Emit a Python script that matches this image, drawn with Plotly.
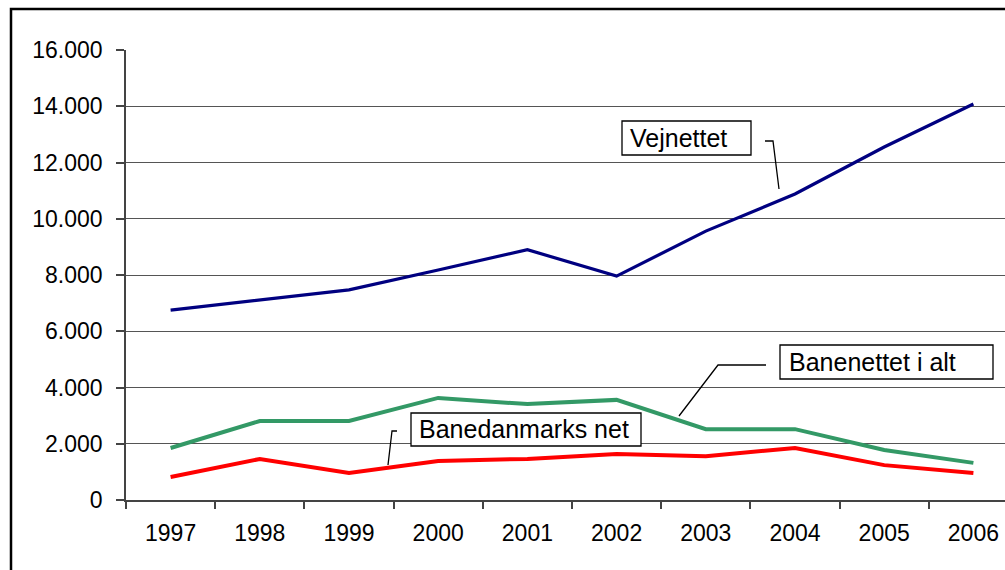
import plotly.graph_objects as go

years = ["1997", "1998", "1999", "2000", "2001", "2002", "2003", "2004", "2005", "2006"]
vejnettet = [6750, 7100, 7470, 8180, 8900, 7960, 9560, 10880, 12550, 14080]
banenettet = [1850, 2810, 2810, 3630, 3410, 3560, 2520, 2520, 1780, 1320]
banedanmark = [820, 1460, 960, 1390, 1460, 1640, 1560, 1850, 1240, 960]

# plot area in pixels
L, R, T, B = 126, 1005, 50, 500
CAT_W = 89.2


def px(x):
    return (x - L) / (R - L)


def py(y):
    return (B - y) / (B - T)


FONT = "Liberation Sans, Arial, sans-serif"

fig = go.Figure()
fig.add_trace(go.Scatter(x=years, y=vejnettet, mode="lines",
                         line=dict(color="#000080", width=3.2), name="Vejnettet"))
fig.add_trace(go.Scatter(x=years, y=banenettet, mode="lines",
                         line=dict(color="#339966", width=4), name="Banenettet i alt"))
fig.add_trace(go.Scatter(x=years, y=banedanmark, mode="lines",
                         line=dict(color="#FF0000", width=4), name="Banedanmarks net"))

shapes = []
# outer frame
shapes.append(dict(type="rect", xref="paper", yref="paper",
                   x0=px(11), x1=px(1100), y0=py(650), y1=py(9),
                   line=dict(color="black", width=2.5), fillcolor="rgba(0,0,0,0)",
                   layer="below"))

boxes = [
    # (x0, x1, y0, y1, text, text_x, text_y)
    (622, 751, 121, 155, "Vejnettet", 628, 138),
    (780, 993, 345, 379, "Banenettet i alt", 787, 362),
    (411, 641, 413, 446, "Banedanmarks net", 417, 429),
]
annotations = []
for x0, x1, y0, y1, text, tx, ty in boxes:
    shapes.append(dict(type="rect", xref="paper", yref="paper",
                       x0=px(x0), x1=px(x1), y0=py(y1), y1=py(y0),
                       line=dict(color="black", width=1.3), fillcolor="white"))
    annotations.append(dict(xref="paper", yref="paper", x=px(tx), y=py(ty),
                            xanchor="left", yanchor="middle", text=text,
                            showarrow=False,
                            font=dict(family=FONT, size=25, color="black")))

leaders = [
    [(765, 141), (773, 141), (779, 189)],
    [(766, 365), (718, 365), (679, 416)],
    [(397, 431), (392, 431), (388, 465)],
]
for pts in leaders:
    path = "M " + " L ".join(f"{px(x)},{py(y)}" for x, y in pts)
    shapes.append(dict(type="path", xref="paper", yref="paper", path=path,
                       line=dict(color="black", width=1.3)))

fig.update_layout(
    width=1005, height=570,
    margin=dict(l=L, r=0, t=T, b=570 - B, pad=0),
    paper_bgcolor="white", plot_bgcolor="white",
    showlegend=False,
    separators=",.",
    font=dict(family=FONT, size=23, color="black"),
    shapes=shapes,
    annotations=annotations,
)
fig.update_xaxes(
    type="category",
    range=[-0.5, -0.5 + (R - L) / CAT_W],
    tickson="boundaries",
    ticks="outside", ticklen=7, tickcolor="#444", tickwidth=1.5,
    showline=True, linecolor="#444", linewidth=1.5,
    showgrid=False, zeroline=False,
    tickfont=dict(family=FONT, size=23, color="black"),
    ticklabelstandoff=12,
)
fig.update_yaxes(
    range=[0, 16000], dtick=2000, tickformat=",d",
    ticks="outside", ticklen=8, tickcolor="#444", tickwidth=1.5,
    showline=True, linecolor="#444", linewidth=1.5,
    showgrid=True, gridcolor="#555", gridwidth=1,
    zeroline=False,
    tickfont=dict(family=FONT, size=23, color="black"),
    ticklabelstandoff=9,
)

fig.write_html("out.html", config={"displayModeBar": False},
               post_script="document.body.style.margin='0px';")
